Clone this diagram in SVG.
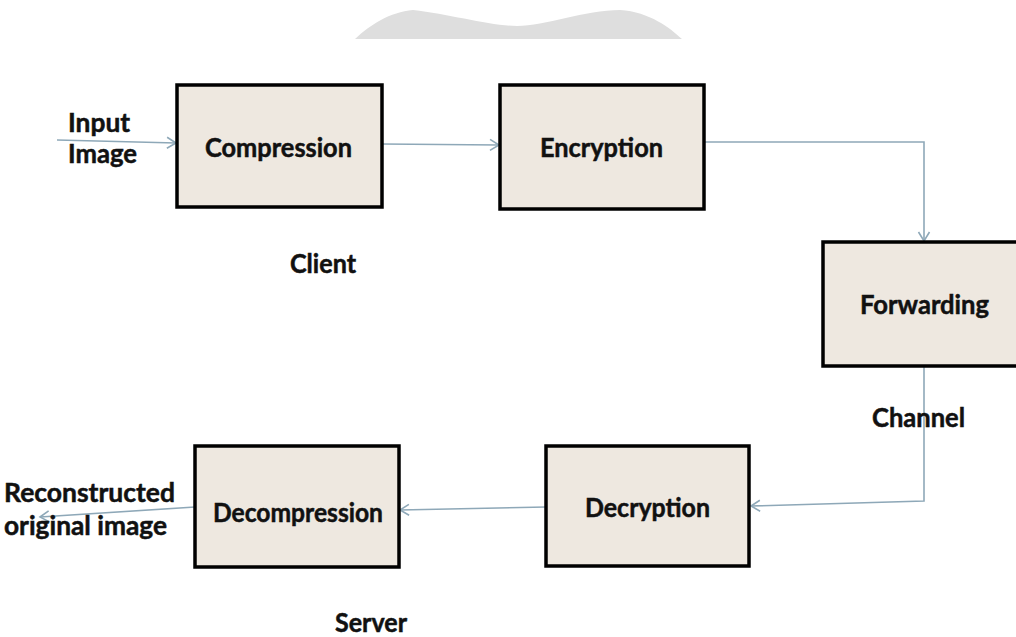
<svg xmlns="http://www.w3.org/2000/svg" width="1016" height="637" viewBox="0 0 1016 637">
<style>
.box{fill:#eee8e0;stroke:#000;stroke-width:3.5}
.t{font-family:Lato,"Open Sans","Liberation Sans",sans-serif;font-weight:bold;font-size:27px;fill:#111;stroke:#111;stroke-width:0.5}
.c{fill:none;stroke:#8ea8b8;stroke-width:1.6}
</style>
<defs>
<marker id="ah" markerWidth="14" markerHeight="14" refX="11" refY="7" orient="auto" markerUnits="userSpaceOnUse">
<path d="M2,1.5 L11,7 L2,12.5" fill="none" stroke="#8ea8b8" stroke-width="1.6"/>
</marker>
</defs>
<rect width="1016" height="637" fill="#fff"/>
<path d="M355,39 C370,25 390,12 413,10 C450,14 490,26 517,26 C545,26 585,10 620,10 C650,12 670,28 682,39 Z" fill="#dedede"/>
<g id="connectors">
<path class="c" d="M57,140 L176,143" marker-end="url(#ah)"/>
<path class="c" d="M382,144 L499,145" marker-end="url(#ah)"/>
<path class="c" d="M704,142 L924,142 L924,241" marker-end="url(#ah)"/>
<path class="c" d="M924,366 L924,501 L751,506" marker-end="url(#ah)"/>
<path class="c" d="M546,507 L400,510" marker-end="url(#ah)"/>
<path class="c" d="M195,507 L40,517" marker-end="url(#ah)"/>
</g>
<g id="compression"><rect class="box" x="177" y="85" width="205" height="122"/><text class="t" x="205" y="157" textLength="147" lengthAdjust="spacingAndGlyphs">Compression</text></g>
<g id="encryption"><rect class="box" x="500" y="85" width="204" height="124"/><text class="t" x="540" y="157" textLength="123" lengthAdjust="spacingAndGlyphs">Encryption</text></g>
<g id="forwarding"><rect class="box" x="823" y="242" width="200" height="124"/><text class="t" x="860" y="314" textLength="129" lengthAdjust="spacingAndGlyphs">Forwarding</text></g>
<g id="decryption"><rect class="box" x="546" y="446" width="203" height="120"/><text class="t" x="585" y="517" textLength="125" lengthAdjust="spacingAndGlyphs">Decryption</text></g>
<g id="decompression"><rect class="box" x="195" y="446" width="204" height="121"/><text class="t" x="213" y="522" textLength="170" lengthAdjust="spacingAndGlyphs">Decompression</text></g>
<g id="labels">
<text class="t" x="68" y="132" textLength="62" lengthAdjust="spacingAndGlyphs">Input</text>
<text class="t" x="68" y="163" textLength="69" lengthAdjust="spacingAndGlyphs">Image</text>
<text class="t" x="290" y="273" textLength="66" lengthAdjust="spacingAndGlyphs">Client</text>
<text class="t" x="872" y="427" textLength="93" lengthAdjust="spacingAndGlyphs">Channel</text>
<text class="t" x="4" y="502" textLength="171" lengthAdjust="spacingAndGlyphs">Reconstructed</text>
<text class="t" x="4" y="535" textLength="163" lengthAdjust="spacingAndGlyphs">original image</text>
<text class="t" x="335" y="632" textLength="72" lengthAdjust="spacingAndGlyphs">Server</text>
</g>
</svg>
